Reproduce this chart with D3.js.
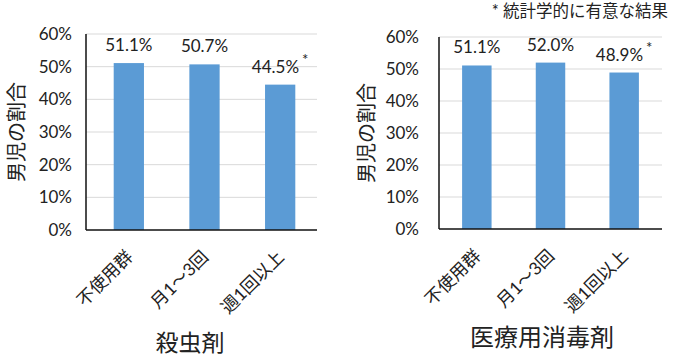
<!DOCTYPE html>
<html>
<head>
<meta charset="utf-8">
<script src="https://cdn.jsdelivr.net/npm/d3@7"></script>
<style>
  body { margin: 0; background: #fff; }
  svg { display: block; }
  text { font-family: Lato, "Noto Sans CJK JP", sans-serif; fill: #222; }
</style>
</head>
<body>
<div id="chart"></div>
<script>
// 男児の割合 — 殺虫剤 / 医療用消毒剤

const categories = ["不使用群", "月1～3回", "週1回以上"];
const insecticideValues = [51.1, 50.7, 44.5];
const disinfectantValues = [51.1, 52.0, 48.9];
const significant = [false, false, true];
const yTicks = [0, 10, 20, 30, 40, 50, 60];
const yTitle = "男児の割合";
const panelTitles = ["殺虫剤", "医療用消毒剤"];
const noteText = "* 統計学的に有意な結果";

const W = 680, H = 362;

const svg = d3.select("#chart").append("svg")
  .attr("width", W)
  .attr("height", H);

function drawPanel(values, title, box) {
  const data = categories.map((c, i) => ({ cat: c, value: values[i], sig: significant[i] }));

  const y = d3.scaleLinear()
    .domain([0, d3.max(yTicks)])
    .range([box.bottom, box.top]);

  const x = d3.scaleBand()
    .domain(categories)
    .range([box.bandLeft, box.bandRight])
    .paddingInner(0.6)
    .paddingOuter(0.3);

  const g = svg.append("g");

  // gridlines
  g.append("g")
    .selectAll("line")
    .data(yTicks.filter(t => t > 0))
    .enter().append("line")
    .attr("x1", box.axisX)
    .attr("x2", box.gridRight)
    .attr("y1", d => y(d))
    .attr("y2", d => y(d))
    .attr("stroke", "#d9d9d9")
    .attr("stroke-width", 1);

  // y tick labels
  const yAxis = g.append("g")
    .attr("transform", `translate(${box.axisX},0)`)
    .call(d3.axisLeft(y).tickValues(yTicks).tickSize(0).tickPadding(box.axisX - box.labelRight).tickFormat(d => d + "%"));
  yAxis.select(".domain").remove();
  yAxis.selectAll("text")
    .style("font-family", "Lato, sans-serif")
    .style("font-size", "17px")
    .attr("fill", "#222");

  // bars
  g.selectAll("rect")
    .data(data)
    .enter().append("rect")
    .attr("x", d => x(d.cat))
    .attr("y", d => y(d.value))
    .attr("width", x.bandwidth())
    .attr("height", d => y(0) - y(d.value))
    .attr("fill", "#5b9bd5");

  // value labels
  const lbl = g.selectAll(".val")
    .data(data)
    .enter().append("text")
    .attr("class", "val")
    .attr("x", d => x(d.cat) + x.bandwidth() / 2)
    .attr("y", d => y(d.value) - 12)
    .attr("text-anchor", "middle")
    .style("font-size", "17px");
  lbl.append("tspan").text(d => d.value.toFixed(1) + "%");
  lbl.filter(d => d.sig).append("tspan")
    .attr("dx", 3)
    .attr("dy", -8)
    .style("font-size", "15px")
    .text("*");

  // axes lines
  g.append("line")
    .attr("x1", box.axisX).attr("x2", box.axisX)
    .attr("y1", box.top).attr("y2", box.bottom)
    .attr("stroke", "#111").attr("stroke-width", 1.5);
  g.append("line")
    .attr("x1", box.axisX).attr("x2", box.gridRight)
    .attr("y1", box.bottom).attr("y2", box.bottom)
    .attr("stroke", "#111").attr("stroke-width", 1.5);

  // category labels (rotated)
  g.selectAll(".cat")
    .data(categories)
    .enter().append("text")
    .attr("class", "cat")
    .attr("text-anchor", "end")
    .attr("transform", d => `translate(${x(d) + x.bandwidth() / 2 + 5},${box.bottom + 28}) rotate(-45)`)
    .style("font-size", "17.5px")
    .text(d => d);

  // y title
  g.append("text")
    .attr("transform", `translate(${box.yTitleX},${(box.top + box.bottom) / 2}) rotate(-90)`)
    .attr("text-anchor", "middle")
    .style("font-size", "20px")
    .text(yTitle);

  // panel title
  g.append("text")
    .attr("x", box.titleX)
    .attr("y", box.titleY)
    .attr("text-anchor", "middle")
    .style("font-size", box.titleSize)
    .text(title);
}

drawPanel(insecticideValues, panelTitles[0], {
  axisX: 86, gridRight: 317, bandLeft: 91, bandRight: 318,
  top: 34, bottom: 230, labelRight: 72, yTitleX: 24,
  titleX: 190, titleY: 351, titleSize: "23px"
});

drawPanel(disinfectantValues, panelTitles[1], {
  axisX: 439, gridRight: 662, bandLeft: 440, bandRight: 661,
  top: 37, bottom: 229, labelRight: 419, yTitleX: 374,
  titleX: 542, titleY: 346, titleSize: "24px"
});

// note
svg.append("text")
  .attr("x", 668)
  .attr("y", 17)
  .attr("text-anchor", "end")
  .style("font-size", "16.5px")
  .text(noteText);
</script>
</body>
</html>
